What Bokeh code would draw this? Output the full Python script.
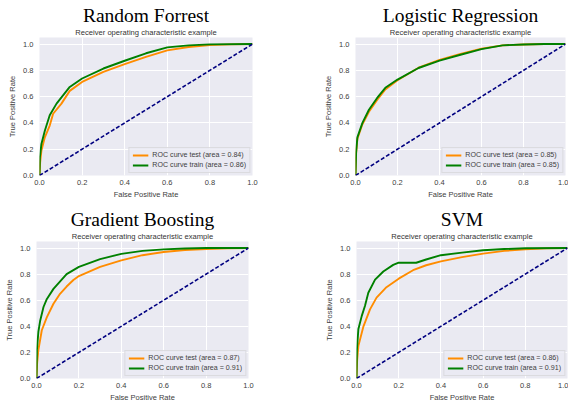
from bokeh.plotting import figure
from bokeh.models import Title, Legend, LegendItem, FixedTicker, Range1d, NumeralTickFormatter
from bokeh.layouts import column, row
from bokeh.embed import file_html
from bokeh.resources import INLINE

# ---- data -------------------------------------------------------------
model_names = ["Random Forrest", "Logistic Regression", "Gradient Boosting", "SVM"]
subtitle_text = "Receiver operating characteristic example"
tick_values = [0.0, 0.2, 0.4, 0.6, 0.8, 1.0]

auc_test = [0.84, 0.85, 0.87, 0.86]
auc_train = [0.86, 0.85, 0.91, 0.91]

diag_x = [0.0, 1.0]
diag_y = [0.0, 1.0]

rf_test_fpr = [0, 0.003, 0.009, 0.025, 0.048, 0.064, 0.103, 0.142, 0.2, 0.3, 0.4, 0.5, 0.6, 0.7, 0.8, 0.9, 1.0]
rf_test_tpr = [0, 0.10, 0.19, 0.29, 0.38, 0.47, 0.547, 0.644, 0.712, 0.789, 0.847, 0.903, 0.952, 0.978, 0.992, 0.998, 1.0]
rf_train_fpr = [0, 0.002, 0.009, 0.025, 0.048, 0.08, 0.142, 0.2, 0.3, 0.4, 0.5, 0.6, 0.7, 0.8, 1.0]
rf_train_tpr = [0, 0.14, 0.24, 0.34, 0.458, 0.547, 0.674, 0.738, 0.814, 0.873, 0.93, 0.975, 0.99, 0.998, 1.0]

lr_test_fpr = [0, 0.003, 0.009, 0.033, 0.064, 0.103, 0.142, 0.2, 0.3, 0.4, 0.5, 0.6, 0.7, 0.8, 0.9, 1.0]
lr_test_tpr = [0, 0.17, 0.28, 0.39, 0.485, 0.575, 0.655, 0.725, 0.82, 0.88, 0.925, 0.965, 0.99, 0.997, 1.0, 1.0]
lr_train_fpr = [0, 0.003, 0.009, 0.033, 0.064, 0.103, 0.142, 0.2, 0.3, 0.4, 0.5, 0.6, 0.7, 0.8, 0.9, 1.0]
lr_train_tpr = [0, 0.18, 0.29, 0.40, 0.50, 0.59, 0.667, 0.73, 0.818, 0.874, 0.919, 0.962, 0.99, 0.997, 1.0, 1.0]

gb_test_fpr = [0, 0.003, 0.009, 0.025, 0.049, 0.08, 0.111, 0.142, 0.174, 0.2, 0.3, 0.4, 0.5, 0.6, 0.7, 0.8, 0.9, 1.0]
gb_test_tpr = [0, 0.12, 0.22, 0.37, 0.47, 0.573, 0.649, 0.705, 0.755, 0.785, 0.855, 0.905, 0.945, 0.97, 0.985, 0.993, 0.998, 1.0]
gb_train_fpr = [0, 0.002, 0.009, 0.017, 0.033, 0.049, 0.08, 0.142, 0.2, 0.3, 0.4, 0.5, 0.6, 0.7, 0.8, 1.0]
gb_train_tpr = [0, 0.22, 0.36, 0.44, 0.548, 0.61, 0.687, 0.80, 0.855, 0.915, 0.955, 0.978, 0.99, 0.996, 1.0, 1.0]

svm_test_fpr = [0, 0.003, 0.009, 0.033, 0.064, 0.095, 0.142, 0.2, 0.268, 0.33, 0.4, 0.5, 0.6, 0.7, 0.8, 0.9, 1.0]
svm_test_tpr = [0, 0.14, 0.25, 0.40, 0.53, 0.62, 0.70, 0.765, 0.83, 0.868, 0.898, 0.93, 0.957, 0.978, 0.99, 0.997, 1.0]
svm_train_fpr = [0, 0.002, 0.009, 0.025, 0.04, 0.056, 0.088, 0.127, 0.174, 0.197, 0.283, 0.33, 0.4, 0.5, 0.6, 0.7, 0.8, 1.0]
svm_train_tpr = [0, 0.22, 0.38, 0.48, 0.556, 0.657, 0.758, 0.82, 0.871, 0.887, 0.887, 0.912, 0.945, 0.965, 0.983, 0.992, 0.998, 1.0]

# ---- styling ----------------------------------------------------------
SANS = "Liberation Sans"
SERIF = "Liberation Serif"
TXT = "#404040"
BG = "#EAEAF2"


def panel(name, fte, tte, ftr, ttr, a_te, a_tr, lay):
    bl, fw, br, bt, fh, bb = lay
    p = figure(width=bl + fw + br, height=bt + fh + bb,
               min_border_left=bl, min_border_right=br,
               min_border_top=bt, min_border_bottom=bb,
               x_range=Range1d(0, 1), y_range=Range1d(0, 1.05),
               output_backend="svg", toolbar_location=None)
    p.title.visible = False
    p.background_fill_color = BG
    p.border_fill_color = "white"
    p.outline_line_color = None

    sub = Title(text=subtitle_text, align="center", text_font=SANS,
                text_font_size="7.6px", text_font_style="normal",
                text_color="#333333", standoff=1, offset=0)
    p.add_layout(sub, "above")
    main = Title(text=name, align="center", text_font=SERIF,
                 text_font_size="19.5px", text_font_style="normal",
                 text_color="#000000", standoff=0, offset=0)
    p.add_layout(main, "above")

    for ax in (p.xaxis[0], p.yaxis[0]):
        ax.ticker = FixedTicker(ticks=tick_values)
        ax.formatter = NumeralTickFormatter(format="0.0")
        ax.axis_line_color = None
        ax.major_tick_line_color = None
        ax.minor_tick_line_color = None
        ax.major_tick_out = 0
        ax.major_tick_in = 0
        ax.major_label_text_font = SANS
        ax.major_label_text_font_size = "7.5px"
        ax.major_label_text_color = TXT
        ax.axis_label_text_font = SANS
        ax.axis_label_text_font_size = "7.5px"
        ax.axis_label_text_font_style = "normal"
        ax.axis_label_text_color = TXT
    p.xaxis.axis_label = "False Positive Rate"
    p.yaxis.axis_label = "True Positive Rate"
    p.xaxis.major_label_standoff = 4
    p.yaxis.major_label_standoff = 6
    p.xaxis.axis_label_standoff = 2
    p.yaxis.axis_label_standoff = 3

    p.grid.grid_line_color = "white"
    p.grid.grid_line_width = 1

    r_te = p.line(fte, tte, line_color="#FF8C00", line_width=1.9)
    r_tr = p.line(ftr, ttr, line_color="#008000", line_width=1.9)
    p.line(diag_x, diag_y, line_color="#000080", line_width=1.6, line_dash="4 2")

    leg = Legend(items=[
        LegendItem(label="ROC curve test (area = %.2f)" % a_te, renderers=[r_te]),
        LegendItem(label="ROC curve train (area = %.2f)" % a_tr, renderers=[r_tr]),
    ], location="bottom_right")
    leg.margin = 2
    leg.padding = 3
    leg.spacing = 2
    leg.glyph_width = 16
    leg.glyph_height = 8
    leg.label_height = 8
    leg.label_standoff = 4
    leg.label_text_font = SANS
    leg.label_text_font_size = "7.1px"
    leg.label_text_color = TXT
    leg.background_fill_color = BG
    leg.background_fill_alpha = 0.8
    leg.border_line_color = "#CCCCCC"
    leg.border_line_width = 1
    p.add_layout(leg)
    return p


p1 = panel(model_names[0], rf_test_fpr, rf_test_tpr, rf_train_fpr, rf_train_tpr,
           auc_test[0], auc_train[0], (39, 213, 69, 37, 138, 27))
p2 = panel(model_names[1], lr_test_fpr, lr_test_tpr, lr_train_fpr, lr_train_tpr,
           auc_test[1], auc_train[1], (31, 213, 3, 37, 138, 27))
p3 = panel(model_names[2], gb_test_fpr, gb_test_tpr, gb_train_fpr, gb_train_tpr,
           auc_test[2], auc_train[2], (36, 212, 74, 39, 137, 27))
p4 = panel(model_names[3], svm_test_fpr, svm_test_tpr, svm_train_fpr, svm_train_tpr,
           auc_test[3], auc_train[3], (31, 214, 1, 39, 137, 27))

layout = column(row(p1, p2), row(p3, p4))

open("out.html", "w").write(file_html(layout, INLINE))
